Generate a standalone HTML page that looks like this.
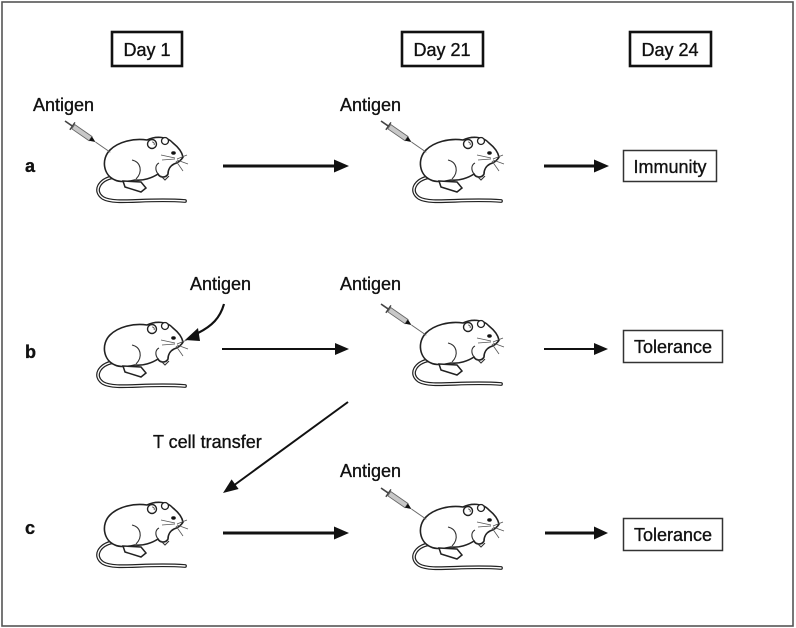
<!DOCTYPE html>
<html><head><meta charset="utf-8"><style>
html,body{margin:0;padding:0;background:#fff;}
svg{display:block;}
text{font-family:"Liberation Sans",Arial,sans-serif;fill:#111;stroke:#111;stroke-width:0.35;}
</style></head><body>
<svg width="796" height="628" viewBox="0 0 796 628" xmlns="http://www.w3.org/2000/svg">
<defs>
<g id="mouse">
  <path d="M18 42 C4 45,-2 56,8 63 C20 70,50 63,90 66" fill="none" stroke="#222" stroke-width="3.8" stroke-linecap="round"/>
  <path d="M18 42 C4 45,-2 56,8 63 C20 70,50 63,90 66" fill="none" stroke="#fff" stroke-width="1.4" stroke-linecap="round"/>
  <path d="M20 45 C8 40,6 24,15 15 C23 7,38 3,52 5 C60 1,72 1,78 8 C83 12,87 17,88 22 C86 26,82 28,79 29 C75 31,73 35,73 39 C71 43,65 43,63 39 C57 43,48 46,40 45 C32 47,24 47,20 45 Z" fill="#fff" stroke="#222" stroke-width="1.6"/>
  <path d="M41 44 C48 37,46 27,37 25" fill="none" stroke="#333" stroke-width="1.1"/>
  <path d="M63 39 C60 35,60 30,64 28" fill="none" stroke="#333" stroke-width="1.1"/>
  <path d="M66 41 L70 45 L74 41" fill="none" stroke="#333" stroke-width="1.1"/>
  <path d="M28 46 L46 47 L51 53 L46 57 L30 52 Z" fill="#fff" stroke="#222" stroke-width="1.5"/>
  <circle cx="57" cy="9" r="4.5" fill="#fff" stroke="#222" stroke-width="1.4"/>
  <path d="M57 7 a2 2 0 0 1 2 3" fill="none" stroke="#333" stroke-width="0.8"/>
  <circle cx="70" cy="6" r="3.5" fill="#fff" stroke="#222" stroke-width="1.3"/>
  <ellipse cx="78.5" cy="18" rx="2.3" ry="1.7" fill="#111"/>
  <circle cx="87.5" cy="22.5" r="1" fill="#111"/>
  <g stroke="#555" stroke-width="0.8" fill="none">
    <path d="M82 24 L92 20"/><path d="M82 25 L93 29"/><path d="M81 26 L88 36"/>
    <path d="M80 23 L66 20"/><path d="M80 24 L67 25"/>
  </g>
</g>
<g id="syr">
  <g transform="translate(-30,-14) rotate(34.6)">
    <line x1="0" y1="0" x2="10" y2="0" stroke="#444" stroke-width="1.6"/>
    <line x1="9" y1="-4.5" x2="9" y2="4.5" stroke="#444" stroke-width="1.4"/>
    <rect x="10" y="-2.6" width="21" height="5.2" fill="#c8c8c8" stroke="#666" stroke-width="0.9"/>
    <polygon points="31,-2.6 37,0 31,2.6" fill="#111"/>
    <line x1="37" y1="0" x2="55" y2="0" stroke="#666" stroke-width="1"/>
  </g>
</g>
</defs>

<rect x="2" y="2" width="791" height="624" fill="#fff" stroke="#555" stroke-width="1.6"/>

<!-- Day headers -->
<rect x="112" y="32" width="70" height="34" fill="#fff" stroke="#111" stroke-width="2.6"/>
<text x="147" y="56" font-size="18" text-anchor="middle">Day 1</text>
<rect x="402" y="32" width="81" height="34" fill="#fff" stroke="#111" stroke-width="2.6"/>
<text x="442" y="56" font-size="18" text-anchor="middle">Day 21</text>
<rect x="630" y="32" width="81" height="34" fill="#fff" stroke="#111" stroke-width="2.6"/>
<text x="670" y="56" font-size="18" text-anchor="middle">Day 24</text>

<!-- Row labels -->
<text x="25" y="172" font-size="18" font-weight="bold">a</text>
<text x="25" y="358" font-size="18" font-weight="bold">b</text>
<text x="25" y="534" font-size="18" font-weight="bold">c</text>

<!-- Row a -->
<text x="33" y="111" font-size="18">Antigen</text>
<use href="#mouse" x="95" y="135"/>
<use href="#syr" x="95" y="135"/>
<line x1="223" y1="166" x2="336" y2="166" stroke="#111" stroke-width="3"/>
<polygon points="334,159.5 349,166 334,172.5" fill="#111"/>
<text x="340" y="111" font-size="18">Antigen</text>
<use href="#mouse" x="411" y="135"/>
<use href="#syr" x="411" y="135"/>
<line x1="544" y1="166" x2="596" y2="166" stroke="#111" stroke-width="3"/>
<polygon points="594,159.5 609,166 594,172.5" fill="#111"/>
<rect x="623.5" y="150.5" width="93" height="31" fill="#fff" stroke="#333" stroke-width="1.5"/>
<text x="670" y="173" font-size="18" text-anchor="middle">Immunity</text>

<!-- Row b -->
<text x="190" y="290" font-size="18">Antigen</text>
<path d="M224 304 C220 318,212 326,198 333" fill="none" stroke="#111" stroke-width="2.2"/>
<polygon points="185,340 198,328 200,341" fill="#111"/>
<use href="#mouse" x="95" y="320"/>
<line x1="222" y1="349" x2="337" y2="349" stroke="#111" stroke-width="2"/>
<polygon points="335,343 349,349 335,355" fill="#111"/>
<text x="340" y="290" font-size="18">Antigen</text>
<use href="#mouse" x="411" y="318"/>
<use href="#syr" x="411" y="318"/>
<line x1="544" y1="349" x2="596" y2="349" stroke="#111" stroke-width="2"/>
<polygon points="594,343 608,349 594,355" fill="#111"/>
<rect x="623.5" y="330.5" width="99" height="32" fill="#fff" stroke="#333" stroke-width="1.5"/>
<text x="673" y="353" font-size="18" text-anchor="middle">Tolerance</text>

<!-- T cell transfer -->
<line x1="348" y1="402" x2="233" y2="486" stroke="#111" stroke-width="2"/>
<polygon points="223,493 238.6,489 231.6,479.4" fill="#111"/>
<text x="153" y="448" font-size="18">T cell transfer</text>

<!-- Row c -->
<use href="#mouse" x="95" y="500"/>
<line x1="223" y1="533" x2="336" y2="533" stroke="#111" stroke-width="3"/>
<polygon points="334,526.5 349,533 334,539.5" fill="#111"/>
<text x="340" y="477" font-size="18">Antigen</text>
<use href="#mouse" x="411" y="502"/>
<use href="#syr" x="411" y="502"/>
<line x1="545" y1="533" x2="596" y2="533" stroke="#111" stroke-width="3"/>
<polygon points="594,526.5 608,533 594,539.5" fill="#111"/>
<rect x="623.5" y="518.5" width="99" height="32" fill="#fff" stroke="#333" stroke-width="1.5"/>
<text x="673" y="541" font-size="18" text-anchor="middle">Tolerance</text>
</svg>
</body></html>
